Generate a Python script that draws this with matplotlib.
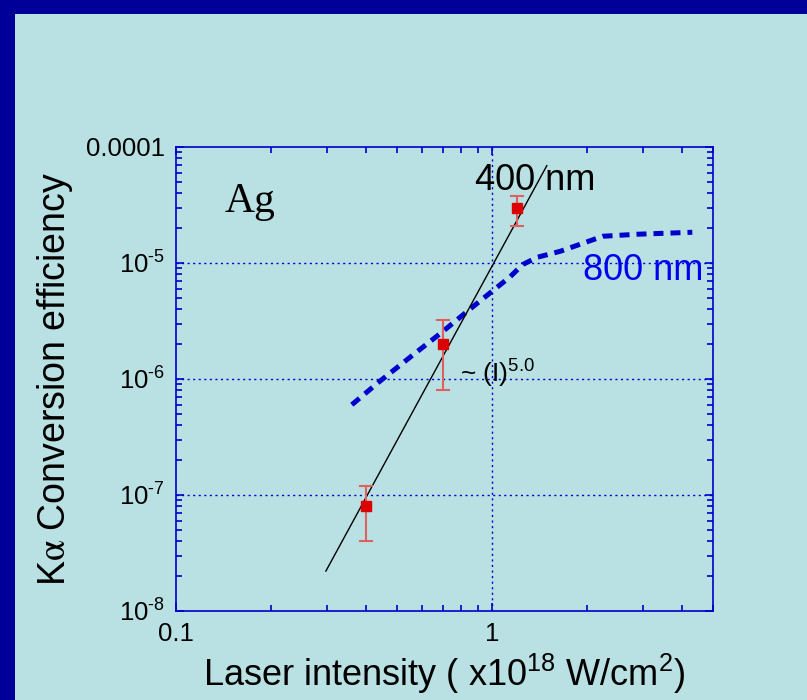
import matplotlib
matplotlib.use("Agg")
import numpy as np
import matplotlib.pyplot as plt
from matplotlib.patches import Rectangle
from matplotlib.ticker import LogLocator, FuncFormatter, NullFormatter

plt.rcParams['font.family'] = ['Liberation Sans', 'DejaVu Sans']
plt.rcParams['mathtext.fontset'] = 'custom'
plt.rcParams['mathtext.rm'] = 'Liberation Sans'
plt.rcParams['mathtext.it'] = 'Liberation Sans:italic'
plt.rcParams['mathtext.bf'] = 'Liberation Sans:bold'

# measured K-alpha conversion efficiency, 400 nm
intensity_400 = [0.4, 0.7, 1.2]
eff_400 = [8e-8, 2e-6, 3e-5]
eff_400_lo = [4e-8, 8e-7, 2.1e-5]
eff_400_hi = [1.2e-7, 3.2e-6, 3.8e-5]

# 800 nm trend
intensity_800 = [0.36, 0.44, 0.56, 0.69, 0.87, 1.14, 1.25, 1.39, 1.64, 2.24, 2.88, 4.3]
eff_800 = [6e-7, 9.5e-7, 1.6e-6, 2.5e-6, 4.2e-6, 7.6e-6, 9.7e-6, 1.12e-5, 1.26e-5,
           1.7e-5, 1.77e-5, 1.84e-5]

# power-law fit ~ I^5.0
fit_exponent = 5.0
fit_coeff = 9.4e-6
fit_range = [0.298, 1.49]

bg = '#b9e0e2'
navy = '#000099'
axblue = '#0000cc'

fig = plt.figure(figsize=(8.07, 7.0), dpi=100, facecolor=bg)
fig.patches.append(Rectangle((0, 1 - 14 / 700), 1, 14 / 700, transform=fig.transFigure,
                             facecolor=navy, edgecolor='none', zorder=0))
fig.patches.append(Rectangle((0, 0), 15 / 807, 1, transform=fig.transFigure,
                             facecolor=navy, edgecolor='none', zorder=0))

ax = fig.add_axes([176 / 807, 1 - 611 / 700, (713 - 176) / 807, (611 - 147) / 700])
ax.set_facecolor(bg)
ax.set_xscale('log')
ax.set_yscale('log')
ax.set_xlim(0.1, 5)
ax.set_ylim(1e-8, 1e-4)

for s in ax.spines.values():
    s.set_color(axblue)
    s.set_linewidth(1.2)

ax.xaxis.set_major_locator(LogLocator(base=10, numticks=10))
ax.xaxis.set_minor_locator(LogLocator(base=10, subs=np.arange(2, 10), numticks=10))
ax.yaxis.set_minor_locator(LogLocator(base=10, subs=np.arange(2, 10), numticks=10))
ax.xaxis.set_major_formatter(FuncFormatter(lambda v, p: '%g' % v))
ax.xaxis.set_minor_formatter(NullFormatter())


def yfmt(v, p):
    e = int(round(np.log10(v)))
    if e == -4:
        return '0.0001'
    return r'$\mathregular{10^{\text{%d}}}$' % e


ax.yaxis.set_major_formatter(FuncFormatter(yfmt))
ax.yaxis.set_minor_formatter(NullFormatter())
ax.tick_params(which='both', direction='in', top=True, right=True, color=axblue,
               labelsize=18.5, labelcolor='black')
ax.tick_params(which='major', length=6, width=1.2, pad=8)
ax.tick_params(which='minor', length=4, width=1.2)

# dotted reference lines
for yv in [1e-5, 1e-6, 1e-7]:
    ax.axhline(yv, color=axblue, lw=1, linestyle=(0, (1.5, 2.5)), zorder=1)
ax.axvline(1, color=axblue, lw=1, linestyle=(0, (1.5, 2.5)), zorder=1)

ax.plot(intensity_800, eff_800, color=axblue, lw=3.6, linestyle=(0, (2.0, 1.4)),
        dash_capstyle='butt', zorder=2)

fx = np.array(fit_range)
ax.plot(fx, fit_coeff * fx ** fit_exponent, color='black', lw=1, zorder=3)

yerr = [np.array(eff_400) - np.array(eff_400_lo), np.array(eff_400_hi) - np.array(eff_400)]
ax.errorbar(intensity_400, eff_400, yerr=yerr, fmt='none', ecolor='#e06060',
            elinewidth=1.5, capsize=5, capthick=1.5, zorder=4)
ax.plot(intensity_400, eff_400, 's', color='#dd0000', markersize=7.5, zorder=5)

ax.text(0.143, 2.74e-5, 'Ag', family='Liberation Serif', fontsize=30, ha='left', va='baseline')
ax.text(0.884, 4.3e-5, '400 nm', fontsize=26, color='black', ha='left', va='baseline')
ax.text(1.94, 7.2e-6, '800 nm', fontsize=26, color='#0000ee', ha='left', va='baseline')
ax.text(0.79, 9.4e-7, r'~ (I)$^{5.0}$', fontsize=19, color='black', ha='left', va='baseline')

ax.set_xlabel(r'Laser intensity ( x10$^{18}$ W/cm$^{2}$)', fontsize=26, labelpad=4)
ax.set_ylabel(r'K$\mathrm{\alpha}$ Conversion efficiency', fontsize=27, labelpad=8,
              math_fontfamily='stix')

fig.savefig('out.png', dpi=100, facecolor=bg)
